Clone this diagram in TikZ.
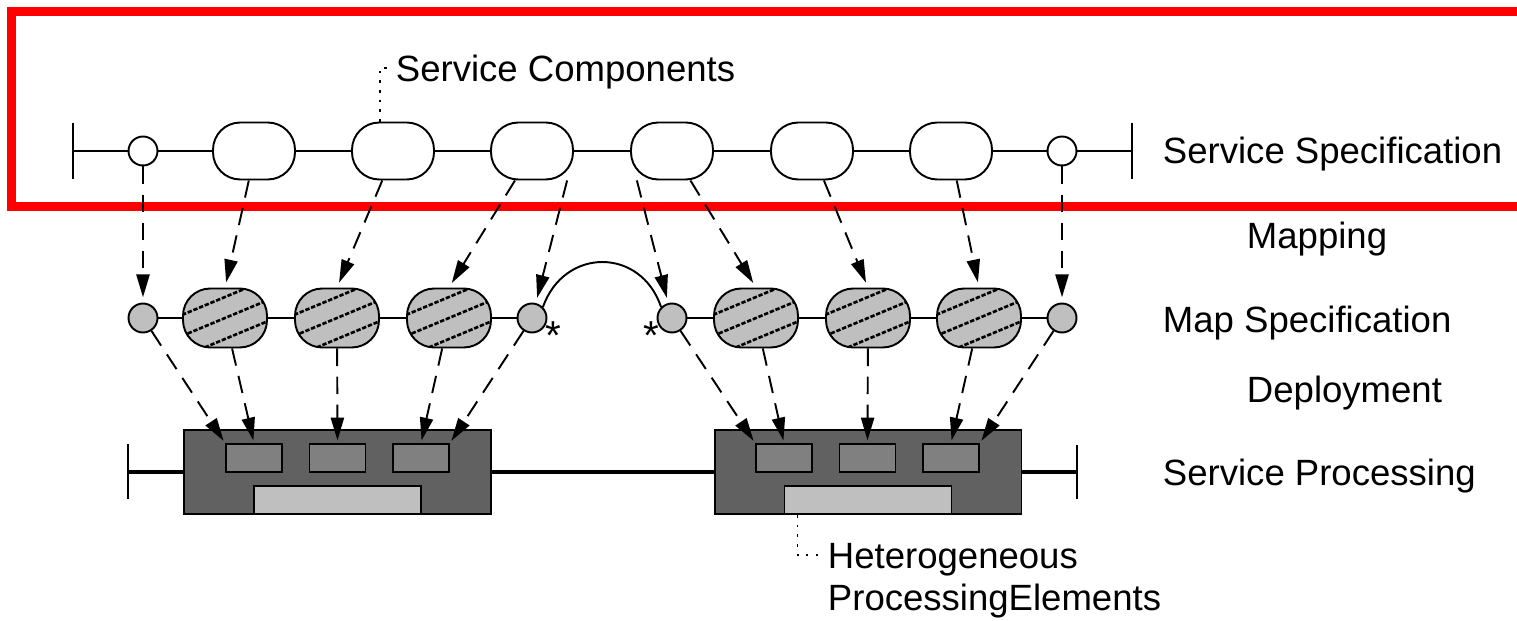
\documentclass[tikz,border=0pt]{standalone}
\usepackage{fontspec}
\setmainfont{Liberation Sans}
\usetikzlibrary{arrows.meta}

\begin{document}
\begin{tikzpicture}[x=0.02cm, y=-0.02cm, line width=1.1pt,
    font=\fontsize{20.8}{25}\selectfont,
    port/.style={draw, circle, fill=white, minimum size=0.58cm, inner sep=0pt},
    comp/.style={draw, rectangle, fill=white, rounded corners=15.5pt, minimum width=1.64cm, minimum height=1.14cm, inner sep=0pt},
    mapport/.style={port, fill=black!25},
    mapcomp/.style={comp, fill=black!25, minimum width=1.68cm, minimum height=1.18cm, hatch},
    hatch/.style={path picture={
        \foreach \k in {-2,...,2}
            \draw[black, line width=1.5pt, dash pattern=on 2.5pt off 1pt]
                ([yshift=\k*0.42cm]path picture bounding box.center) +(-1.2cm, -0.5cm) -- +(1.2cm, 0.5cm);
    }},
    pebox/.style={draw, rectangle, fill=black!62, minimum width=6.14cm, minimum height=1.68cm, inner sep=0pt},
    pecell/.style={draw, rectangle, fill=black!50, minimum width=1.12cm, minimum height=0.56cm, inner sep=0pt},
    pebar/.style={draw, rectangle, fill=black!25, minimum width=3.34cm, minimum height=0.56cm, inner sep=0pt},
    mapto/.style={dash pattern=on 10pt off 6pt, -{Triangle[length=13pt, width=7.5pt]}, shorten >=3pt},
    leader/.style={line width=1pt, dash pattern=on 1.5pt off 4pt},
    label/.style={anchor=base west, inner sep=0pt}]

    \useasboundingbox (0, 0) rectangle (1517, 621);

    % service specification layer
    \draw[red, line width=5.1pt] (11.5, 11.5) rectangle (1540, 206.5);

    \coordinate (sl) at (73, 151);
    \coordinate (sr) at (1132, 151);
    \draw (sl) ++(0, -28) -- ++(0, 56);
    \draw (sr) ++(0, -28) -- ++(0, 56);

    \node[port] (sc1) at (143, 151) {};
    \node[comp] (so1) at (254, 151) {};
    \node[comp] (so2) at (393, 151) {};
    \node[comp] (so3) at (532, 151) {};
    \node[comp] (so4) at (672, 151) {};
    \node[comp] (so5) at (812, 151) {};
    \node[comp] (so6) at (951, 151) {};
    \node[port] (sc2) at (1062, 151) {};
    \draw (sl) -- (sc1) -- (so1) -- (so2) -- (so3) -- (so4) -- (so5) -- (so6) -- (sc2) -- (sr);

    \node[label] (scl) at (395, 82) {Service Components};
    \coordinate (scl-in) at (390, 68);
    \draw[leader] ([xshift=-0.26cm]so2.north) |- (scl-in);

    % map specification layer
    \node[mapport] (mc1) at (143, 318) {};
    \node[mapcomp] (mo1) at (225, 318) {};
    \node[mapcomp] (mo2) at (337, 318) {};
    \node[mapcomp] (mo3) at (449, 318) {};
    \node[mapport] (mc2) at (532, 318) {};
    \node[mapport] (mc3) at (672, 318) {};
    \node[mapcomp] (mo4) at (756, 318) {};
    \node[mapcomp] (mo5) at (868, 318) {};
    \node[mapcomp] (mo6) at (979, 318) {};
    \node[mapport] (mc4) at (1062, 318) {};
    \draw (mc1) -- (mo1) -- (mo2) -- (mo3) -- (mc2);
    \draw (mc3) -- (mo4) -- (mo5) -- (mo6) -- (mc4);
    \draw (mc2.45) .. controls (564, 247) and (641, 247) .. (mc3.135);
    \node[anchor=base, inner sep=0pt, font=\fontsize{23}{25}\selectfont] (st1) at (553, 350) {*};
    \node[anchor=base, inner sep=0pt, font=\fontsize{23}{25}\selectfont] (st2) at (651, 350) {*};

    % mapping
    \draw[mapto] (sc1) -- (mc1);
    \draw[mapto] (so1.-100) -- (mo1.north);
    \draw[mapto] (so2.-110) -- (mo2.north);
    \draw[mapto] (so3.-120) -- (mo3.north);
    \draw[mapto] (so3.-40) -- (mc2);
    \draw[mapto] (so4.-140) -- (mc3);
    \draw[mapto] (so4.-58) -- (mo4.north);
    \draw[mapto] (so5.-68) -- (mo5.north);
    \draw[mapto] (so6.-79) -- (mo6.north);
    \draw[mapto] (sc2) -- (mc4);

    % service processing layer
    \coordinate (pl-end) at (128, 472);
    \coordinate (pr-end) at (1077, 472);
    \draw[line width=2.5pt] (pl-end) -- (pr-end);
    \draw[line width=1.5pt] (pl-end) ++(0, -28) -- ++(0, 55);
    \draw[line width=1.5pt] (pr-end) ++(0, -27) -- ++(0, 54);

    \node[pebox] (pl) at (337.5, 472) {};
    \node[pecell] (pl1) at (254, 458) {};
    \node[pecell] (pl2) at (337.5, 458) {};
    \node[pecell] (pl3) at (421, 458) {};
    \node[pebar] (plb) at (337.5, 500) {};

    \node[pebox] (pr) at (868, 472) {};
    \node[pecell] (pr1) at (784, 458) {};
    \node[pecell] (pr2) at (867.5, 458) {};
    \node[pecell] (pr3) at (951, 458) {};
    \node[pebar] (prb) at (868, 500) {};

    % deployment
    \draw[mapto, shorten >=1.5pt] (mc1) -- (pl1.north west);
    \draw[mapto, shorten >=1.5pt] (mo1) -- (pl1.north);
    \draw[mapto, shorten >=1.5pt] (mo2) -- (pl2.north);
    \draw[mapto, shorten >=1.5pt] (mo3) -- (pl3.north);
    \draw[mapto, shorten >=1.5pt] (mc2) -- (pl3.north east);
    \draw[mapto, shorten >=1.5pt] (mc3) -- (pr1.north west);
    \draw[mapto, shorten >=1.5pt] (mo4) -- (pr1.north);
    \draw[mapto, shorten >=1.5pt] (mo5) -- (pr2.north);
    \draw[mapto, shorten >=1.5pt] (mo6) -- (pr3.north);
    \draw[mapto, shorten >=1.5pt] (mc4) -- (pr3.north east);

    \node[label] (hel) at (827, 568) {Heterogeneous};
    \node[label] (pel) at (827, 610) {ProcessingElements};
    \coordinate (hel-in) at (822, 555);
    \draw[leader] ([xshift=0.28cm]prb.south west) |- (hel-in);

    % layer names
    \node[label] (lss) at (1162, 164) {Service Specification};
    \node[label] (lmp) at (1246, 249) {Mapping};
    \node[label] (lms) at (1162, 333) {Map Specification};
    \node[label] (ldp) at (1246, 402) {Deployment};
    \node[label] (lsp) at (1162, 485) {Service Processing};
\end{tikzpicture}
\end{document}
